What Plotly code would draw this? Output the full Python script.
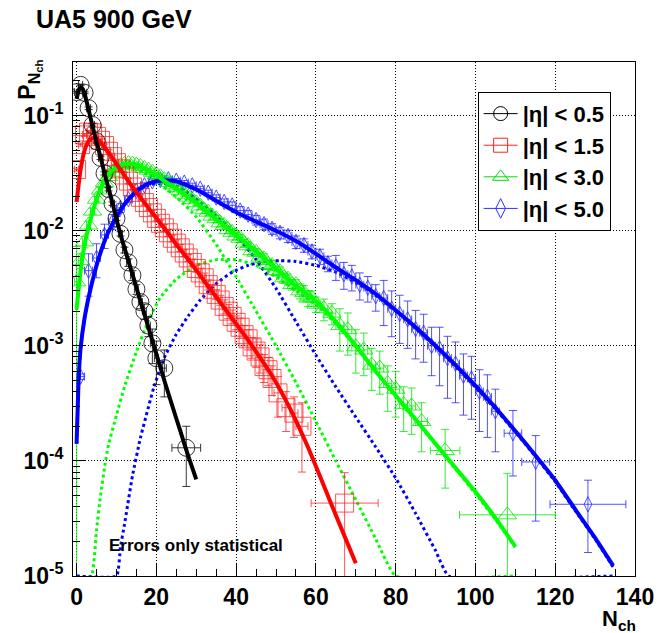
import plotly.graph_objects as go

# ---------------- data: |eta| < 0.5 (black) ----------------
bk_n = [0, 1, 2, 3, 4, 5, 6, 7, 8, 9, 10, 11, 12, 13, 14, 15, 16, 17, 18, 19, 20, 22, 27.5]
bk_p = [0.160, 0.185, 0.158, 0.116, 0.083, 0.060, 0.043, 0.0315, 0.0230, 0.0172, 0.0128, 0.0094,
        0.0068, 0.0053, 0.0041, 0.0031, 0.0024, 0.0020, 0.00150, 0.00105, 0.00078, 0.00064, 1.3e-4]
bk_e = [0.003, 0.003, 0.003, 0.003, 0.002, 0.002, 0.0015, 0.001, 0.0008, 0.0006, 0.0005, 0.0004,
        0.0004, 0.0004, 0.0004, 0.0003, 0.0003, 0.0003, 0.0003, 0.00035, 0.00032, 0.00028, 7e-5]
bk_ex = [0.5] * 22 + [3.6]

bk_fit_n = [0, 0.5, 1, 1.5, 2, 3, 4, 5, 6, 7, 8, 9, 10, 11, 12, 14, 16, 18, 20, 22, 24, 26, 28, 30]
bk_fit_p = [0.14, 0.165, 0.175, 0.17, 0.155, 0.113, 0.081, 0.059, 0.0437, 0.0316, 0.0234, 0.0174,
            0.0126, 0.0093, 0.0071, 0.0042, 0.00245, 0.00145, 8.5e-4, 5.0e-4, 3.0e-4, 1.82e-4, 1.1e-4, 6.9e-5]

# ---------------- data: |eta| < 1.5 (red) ----------------
rd_n = list(range(0, 50)) + [50.5, 52.5, 54.5, 56.5, 67.2]
rd_p = [0.034, 0.056, 0.068, 0.072, 0.071, 0.066, 0.061, 0.055, 0.049, 0.044, 0.039, 0.0345, 0.0305,
        0.0270, 0.0240, 0.0215, 0.0195, 0.0176, 0.0159, 0.0143, 0.0128, 0.0116, 0.0106, 0.0096, 0.0086,
        0.0078, 0.0071, 0.0064, 0.0058, 0.0053, 0.0047, 0.0043, 0.0039, 0.0034, 0.0031, 0.0028, 0.0025,
        0.0022, 0.0020, 0.0018, 0.0016, 0.00145, 0.00125, 0.00115, 0.00098, 0.00090, 0.00080, 0.00066,
        0.00062, 0.00052, 3.9e-4, 2.9e-4, 2.6e-4, 2.0e-4, 4.3e-5]
rd_e = [0.001, 0.0017, 0.002, 0.0022, 0.0021, 0.002, 0.0018, 0.0017, 0.0015, 0.0013, 0.0012, 0.0017,
        0.0015, 0.0014, 0.0012, 0.0011, 0.00098, 0.00088, 0.0008, 0.00072, 0.00064, 0.0008, 0.00074,
        0.00067, 0.0006, 0.00055, 0.0005, 0.00045, 0.00041, 0.00037, 0.00033, 0.00043, 0.00039, 0.00034,
        0.00031, 0.00028, 0.00025, 0.00031, 0.00028, 0.00025, 0.00022, 0.00029, 0.00025, 0.00023,
        0.0002, 0.00025, 0.00022, 0.00018, 0.00017, 0.00015, 0.00015, 0.00011, 0.0001, 0.00012, 3.6e-5]
rd_ex = [0.5] * 50 + [1, 1, 1, 1.5, 8.4]

rd_fit_n = [0, 0.5, 1, 2, 3, 4, 5, 6, 8, 10, 12, 14, 16, 18, 20, 22, 25, 28, 31, 34, 37, 40, 43, 46,
            49, 52, 55, 58, 61, 64, 67, 70]
rd_fit_p = [0.0178, 0.025, 0.034, 0.050, 0.060, 0.0638, 0.063, 0.0582, 0.0479, 0.038, 0.0302, 0.024,
            0.0195, 0.0158, 0.0129, 0.0105, 0.00759, 0.00562, 0.00407, 0.00295, 0.00214, 0.00155,
            0.00112, 7.9e-4, 5.5e-4, 3.6e-4, 2.24e-4, 1.32e-4, 7.4e-5, 4.1e-5, 2.3e-5, 1.29e-5]

# ---------------- data: |eta| < 3.0 (green) ----------------
gr_n = list(range(0, 61)) + [62, 64, 66, 68, 70, 72, 74, 76, 78, 80, 82, 84, 86.5, 92.4, 108]
gr_p = [0.0036, 0.0055, 0.0080, 0.0112, 0.0148, 0.0188, 0.0226, 0.0262, 0.0296, 0.0322, 0.0348,
        0.0366, 0.0378, 0.0384, 0.0380, 0.0372, 0.0362, 0.0348, 0.0336, 0.0322, 0.0308, 0.0294,
        0.0278, 0.0262, 0.0250, 0.0236, 0.0222, 0.0208, 0.0196, 0.0186, 0.0175, 0.0164, 0.0152,
        0.0145, 0.0134, 0.0127, 0.0117, 0.0111, 0.0102, 0.0097, 0.0090, 0.0086, 0.0078, 0.0074,
        0.0067, 0.0065, 0.0059, 0.0057, 0.0051, 0.0050, 0.0045, 0.0044, 0.0039, 0.0038, 0.0034,
        0.0034, 0.0030, 0.0029, 0.0026, 0.0026, 0.0023, 0.0021, 0.00192, 0.00150, 0.00138, 0.00098,
        0.00092, 0.00068, 0.00064, 0.00047, 0.00042, 0.00031, 0.00030, 0.00022, 1.23e-4, 3.4e-5]
gr_e = [0.0037, 0.0008, 0.0009, 0.0009, 0.0009, 0.001, 0.001, 0.0011, 0.0011, 0.0011, 0.0011,
        0.0011, 0.0011, 0.0011, 0.0011, 0.0011, 0.0011, 0.001, 0.001, 0.001, 0.001, 0.0009, 0.0009,
        0.0009, 0.0009, 0.0009, 0.0009, 0.0009, 0.0009, 0.0009, 0.0009, 0.0011, 0.0011, 0.001, 0.001,
        0.0009, 0.0009, 0.0008, 0.0008, 0.0007, 0.0007, 0.0007, 0.0006, 0.0006, 0.0005, 0.0005,
        0.0006, 0.0006, 0.0005, 0.0005, 0.00045, 0.00045, 0.0004, 0.0004, 0.00035, 0.00035, 0.00045,
        0.00044, 0.0004, 0.0004, 0.00035, 0.00045, 0.0004, 0.0006, 0.00055, 0.0004, 0.00037,
        0.00027, 0.00026, 0.0002, 0.00018, 0.00013, 0.00013, 1e-4, 6.5e-5, 4.4e-5]
gr_ex = [0.5] * 61 + [1] * 12 + [1.5, 3.7, 12]

gr_fit_n = [0, 1, 2, 3, 4, 5, 6, 7, 8, 10, 12, 14, 16, 18, 20, 23, 26, 30, 35, 40, 45, 50, 55, 60,
            65, 70, 75, 80, 85, 90, 95, 100, 105, 110]
gr_fit_p = [0.00209, 0.00447, 0.00759, 0.0107, 0.0145, 0.0186, 0.0234, 0.0275, 0.0309, 0.0355, 0.038,
            0.038, 0.0363, 0.0331, 0.0302, 0.0257, 0.0219, 0.0174, 0.0126, 0.00912, 0.00661, 0.00468,
            0.00331, 0.00245, 0.00162, 0.001, 6.0e-4, 3.7e-4, 2.3e-4, 1.41e-4, 8.7e-5, 5.4e-5, 3.2e-5, 1.8e-5]

gr_soft_n = [0, 1, 2, 3, 4, 5, 6, 7, 8, 10, 12, 14, 16, 18, 20, 23, 26, 30, 35, 40, 45, 50, 55, 60,
             65, 70, 75, 80, 110]
gr_soft_p = [0.00204, 0.00437, 0.00741, 0.0107, 0.0145, 0.0186, 0.0229, 0.0269, 0.0302, 0.0347,
             0.0363, 0.0355, 0.0331, 0.0302, 0.0269, 0.0224, 0.0182, 0.0132, 0.00759, 0.00398, 0.002,
             0.001, 4.8e-4, 2.2e-4, 1e-4, 4.6e-5, 2.1e-5, 1e-5, 1e-5]

gr_hard_n = [0, 3.7, 5, 6, 7, 8, 10, 12, 15, 18, 21, 25, 30, 35, 40, 45, 50, 55, 60, 65, 70, 75, 80,
             85, 90, 95, 100, 105, 110]
gr_hard_p = [1e-5, 1e-5, 2.5e-5, 5.0e-5, 8.7e-5, 1.38e-4, 2.5e-4, 4.4e-4, 8.9e-4, 1.66e-3, 2.63e-3,
             3.8e-3, 5.0e-3, 5.6e-3, 5.6e-3, 5.0e-3, 3.98e-3, 3.0e-3, 2.29e-3, 1.55e-3, 9.8e-4, 5.9e-4,
             3.6e-4, 2.24e-4, 1.38e-4, 8.5e-5, 5.2e-5, 3.1e-5, 1.78e-5]

# ---------------- data: |eta| < 5.0 (blue) ----------------
bl_n = list(range(1, 106, 2)) + [109.4, 115.1, 128.2]
bl_p = [5.4e-4, 0.0045, 0.0058, 0.0092, 0.0120, 0.0158, 0.0188, 0.0222, 0.0248, 0.0268, 0.0276,
        0.0280, 0.0272, 0.0262, 0.0248, 0.0232, 0.0214, 0.0194, 0.0178, 0.0166, 0.0150, 0.0138,
        0.0124, 0.0114, 0.0104, 0.0096, 0.0090, 0.0080, 0.0075, 0.0066, 0.0060, 0.0052, 0.0049,
        0.0042, 0.0040, 0.0034, 0.0032, 0.0027, 0.0026, 0.0021, 0.0019, 0.0017, 0.0014, 0.0013,
        0.0010, 0.00095, 0.00078, 0.00070, 0.00055, 0.00052, 0.00040, 0.00036, 0.00027,
        1.74e-4, 9.8e-5, 4.2e-5]
bl_e = [3e-5, 0.0018, 0.0019, 0.0022, 0.0018, 0.0014, 0.0013, 0.0013, 0.0013, 0.0013,
        0.0012, 0.0012, 0.0012, 0.0011, 0.0011, 0.0011, 0.0011, 0.0011, 0.0011, 0.0012,
        0.0012, 0.0012, 0.0012, 0.0012, 0.0011, 0.0011, 0.0011, 0.001, 0.001, 0.0009,
        0.0009, 0.0008, 0.0012, 0.0011, 0.001, 0.0009, 0.0008, 0.0007, 0.0011, 0.0009,
        0.00085, 0.00075, 0.00063, 0.00058, 0.00045, 0.0005, 0.00043, 0.00038, 0.0003, 0.00029,
        0.00022, 0.0002, 0.00015, 1e-4, 6.8e-5, 2.6e-5]
bl_ex = [1] * 53 + [2.2, 3.5, 9.5]

bl_fit_n = [0, 0.5, 1, 2, 3, 4, 5, 6, 7, 8, 10, 12, 14, 16, 18, 20, 22, 25, 28, 31, 35, 40, 45, 50,
            55, 60, 65, 70, 75, 80, 85, 90, 95, 100, 105, 110, 115, 120, 125, 130, 134.5]
bl_fit_p = [1.41e-4, 5.0e-4, 9.5e-4, 1.74e-3, 2.63e-3, 3.7e-3, 5.0e-3, 6.46e-3, 8.1e-3, 9.8e-3, 0.0132,
            0.017, 0.0204, 0.0234, 0.0257, 0.0269, 0.0275, 0.0269, 0.0245, 0.0219, 0.0182, 0.0145,
            0.012, 0.01, 0.00813, 0.0063, 0.00479, 0.00372, 0.00282, 0.00204, 0.00145, 0.001, 6.8e-4,
            4.5e-4, 2.9e-4, 1.82e-4, 1.12e-4, 6.8e-5, 3.8e-5, 2.14e-5, 1.23e-5]

bl_soft_n = [0, 0.5, 1, 2, 3, 4, 5, 6, 7, 8, 10, 12, 14, 16, 18, 20, 22, 25, 28, 31, 35, 40, 45, 50,
             55, 60, 65, 70, 75, 80, 85, 90, 93.3, 134.5]
bl_soft_p = [1.41e-4, 5.0e-4, 9.5e-4, 1.74e-3, 2.63e-3, 3.7e-3, 5.0e-3, 6.4e-3, 8.0e-3, 9.7e-3, 0.0131,
             0.0168, 0.0200, 0.0228, 0.0248, 0.0257, 0.0257, 0.0245, 0.0214, 0.0178, 0.0135, 0.00912,
             0.00562, 0.00316, 0.00162, 8.3e-4, 4.4e-4, 2.4e-4, 1.32e-4, 7.1e-5, 3.5e-5, 1.66e-5, 1e-5, 1e-5]

bl_hard_n = [0, 10, 11, 12, 14, 16, 19.4, 22, 25, 28, 31, 35, 39, 43, 47, 51, 55, 60, 65, 70, 75, 80,
             85, 90, 95, 100, 105, 110, 115, 120, 125, 130, 134.5]
bl_hard_p = [1e-5, 1e-5, 1.78e-5, 2.8e-5, 7.4e-5, 1.58e-4, 4.4e-4, 7.9e-4, 1.26e-3, 1.82e-3, 2.5e-3,
             3.47e-3, 4.37e-3, 5.0e-3, 5.4e-3, 5.5e-3, 5.4e-3, 5.0e-3, 4.37e-3, 3.55e-3, 2.75e-3, 2.0e-3,
             1.41e-3, 9.8e-4, 6.6e-4, 4.37e-4, 2.82e-4, 1.78e-4, 1.1e-4, 6.6e-5, 3.7e-5, 2.1e-5, 1.2e-5]

labels = ["|η| < 0.5", "|η| < 1.5", "|η| < 3.0", "|η| < 5.0"]
x_tickvals = [0, 20, 40, 60, 80, 100, 120, 140]
x_ticktext = ["<b>0</b>", "<b>20</b>", "<b>40</b>", "<b>60</b>", "<b>80</b>", "<b>100</b>", "<b>120</b>", "<b>140</b>"]
y_tickvals = [1e-5, 1e-4, 1e-3, 1e-2, 1e-1]
y_ticktext = ["<b>10<sup>-5</sup></b>", "<b>10<sup>-4</sup></b>", "<b>10<sup>-3</sup></b>",
              "<b>10<sup>-2</sup></b>", "<b>10<sup>-1</sup></b>"]

FONT = "Liberation Sans, Arial, sans-serif"

fig = go.Figure()

# dotted component curves
for xs, ys, col in [(gr_soft_n, gr_soft_p, "#00ff00"), (gr_hard_n, gr_hard_p, "#00ff00"),
                    (bl_soft_n, bl_soft_p, "#0000ff"), (bl_hard_n, bl_hard_p, "#0000ff")]:
    fig.add_trace(go.Scatter(x=xs, y=ys, mode="lines",
                             line=dict(color=col, width=3, dash="dot", shape="spline", smoothing=0.4),
                             showlegend=False, hoverinfo="skip"))

# data points
series = [
    (bl_n, bl_p, bl_e, bl_ex, "rgba(40,40,255,0.8)", "diamond-tall-open", 11),
    (gr_n, gr_p, gr_e, gr_ex, "rgba(0,235,0,0.8)", "triangle-up-open", 16),
    (rd_n, rd_p, rd_e, rd_ex, "rgba(255,30,30,0.75)", "square-open", 18),
    (bk_n, bk_p, bk_e, bk_ex, "rgba(20,20,20,0.85)", "circle-open", 17),
]
for xs, ys, es, exs, col, sym, sz in series:
    fig.add_trace(go.Scatter(
        x=xs, y=ys, mode="markers",
        marker=dict(symbol=sym, size=sz, color=col, line=dict(color=col, width=1)),
        error_y=dict(type="data", array=es, color=col, thickness=1, width=4),
        error_x=dict(type="data", array=exs, color=col, thickness=1, width=4),
        showlegend=False, hoverinfo="skip"))

# solid fit curves
for xs, ys, col in [(bl_fit_n, bl_fit_p, "#0000ff"), (gr_fit_n, gr_fit_p, "#00ff00"),
                    (rd_fit_n, rd_fit_p, "#ff0000"), (bk_fit_n, bk_fit_p, "#000000")]:
    fig.add_trace(go.Scatter(x=xs, y=ys, mode="lines",
                             line=dict(color=col, width=4, shape="spline", smoothing=0.4),
                             showlegend=False, hoverinfo="skip"))

# legend entries
leg = [("#000000", "circle-open"), ("#ff2020", "square-open"), ("#00e000", "triangle-up-open"),
       ("#3030ff", "diamond-tall-open")]
for i, (col, sym) in enumerate(leg):
    fig.add_trace(go.Scatter(x=[None], y=[None], mode="lines+markers", name="<b>" + labels[i] + "</b>",
                             legendgroup=f"g{i}",
                             line=dict(color=col, width=1),
                             marker=dict(symbol=sym, size=14, color=col, line=dict(color=col, width=1))))

axis_common = dict(showline=True, linecolor="black", linewidth=1, mirror=True, ticks="inside",
                   tickcolor="black", tickwidth=1, showgrid=True, gridcolor="black", gridwidth=1,
                   griddash="1px,2px", zeroline=False,
                   tickfont=dict(family=FONT, size=23, color="black"))

minor_y = [m * 10.0 ** e for e in range(-5, 0) for m in range(2, 10)]

fig.update_layout(
    width=666, height=633,
    margin=dict(l=73, r=20, t=62, b=57),
    paper_bgcolor="white", plot_bgcolor="white",
    xaxis=dict(range=[-0.9, 140], tickmode="array", tickvals=x_tickvals, ticktext=x_ticktext, ticklen=13,
               minor=dict(ticks="inside", ticklen=7, dtick=5, tick0=0, tickcolor="black", showgrid=False),
               **axis_common),
    yaxis=dict(type="log", range=[-5, -0.534], tickmode="array", tickvals=y_tickvals, ticktext=y_ticktext,
               ticklen=13, ticklabelstandoff=4,
               minor=dict(ticks="inside", ticklen=7, tickmode="array", tickvals=minor_y, tickcolor="black",
                          showgrid=False),
               **axis_common),
    legend=dict(x=0.72, y=0.942, xanchor="left", yanchor="top", bgcolor="white", bordercolor="black",
                borderwidth=1, font=dict(family=FONT, size=22, color="black"),
                tracegroupgap=0, itemwidth=34),
    showlegend=True,
    annotations=[
        dict(text="<b>UA5 900 GeV</b>", xref="paper", yref="paper", x=-0.07, y=1.084, xanchor="left",
             yanchor="middle", showarrow=False, font=dict(family=FONT, size=25, color="black")),
        dict(text="<b>Errors only statistical</b>", xref="paper", yref="paper", x=0.218, y=0.060,
             xanchor="center", yanchor="middle", showarrow=False, font=dict(family=FONT, size=17, color="black")),
        dict(text="<b>P<sub>N<sub>ch</sub></sub></b>", xref="paper", yref="paper", x=-0.077, y=0.965,
             textangle=-90, xanchor="center", yanchor="middle", showarrow=False,
             font=dict(family=FONT, size=23, color="black")),
        dict(text="<b>N<sub>ch</sub></b>", xref="paper", yref="paper", x=0.972, y=-0.086, xanchor="center",
             yanchor="middle", showarrow=False, font=dict(family=FONT, size=22, color="black")),
    ],
)

fig.write_html("out.html")
